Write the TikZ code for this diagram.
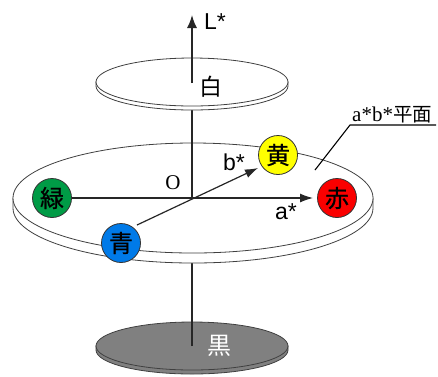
\documentclass[tikz,border=0pt]{standalone}
\usepackage{fontspec}
\setmainfont{Liberation Serif}
\setsansfont{Liberation Sans}
\newfontfamily\jp{Noto Sans CJK JP}
\newfontfamily\jpb[FakeBold=0.8]{Noto Sans CJK JP}
\usetikzlibrary{arrows.meta}
\definecolor{ballgreen}{RGB}{0,155,70}
\definecolor{ballblue}{RGB}{0,122,232}
\definecolor{ballyellow}{RGB}{255,255,0}
\definecolor{ballred}{RGB}{250,0,0}
\definecolor{darkdisc}{RGB}{128,128,128}
\newcommand\mydisc[6]{%
  \filldraw[rim, fill=#6] (#1-#3,#2) -- (#1-#3,#2+#5) arc[start angle=180,end angle=0,x radius=#3,y radius=#4] -- (#1+#3,#2) -- cycle;
  \filldraw[rim, fill=#6] (#1,#2) ellipse[x radius=#3,y radius=#4];
}
\begin{document}
\begin{tikzpicture}[x=1pt,y=-1pt,
  rim/.style={draw=black!75, line width=0.8pt},
  axis/.style={draw=black!85, line width=1.5pt},
  tip/.style={-{Latex[length=13pt,width=10pt]}},
  colorball/.style={circle, draw=black!80, line width=0.8pt, minimum size=39pt, inner sep=0pt, font=\jpb\fontsize{24}{24}\selectfont},
  lab/.style={font=\sffamily\fontsize{23}{23}\selectfont, inner sep=0pt},
  jplab/.style={font=\jp\fontsize{23}{23}\selectfont, inner sep=0pt},
]
\useasboundingbox (0,0) rectangle (438,376);

\coordinate (K) at (192,346);
\coordinate (O) at (192,198);
\coordinate (W) at (192,83);
\coordinate (Ltip) at (192,15);
\coordinate (atip) at (313,198);
\coordinate (btip) at (258,168);
\coordinate (bs) at (137,225);
\coordinate (lead1) at (315,170);
\coordinate (lead2) at (350,125);
\coordinate (lead3) at (436,125);

% black disc
\mydisc{192}{346}{96}{24}{4}{darkdisc}
\draw[axis] (K) -- (O);
\node[jplab, text=white, font=\jp\fontsize{24}{24}\selectfont] (kuro) at (219,346) {黒};

% a*b* plane
\mydisc{193}{198}{180}{55}{10}{white}
\draw[axis] (O) -- (W);

% white disc
\mydisc{192}{82}{96}{24}{4}{white}
\draw[axis, tip] (W) -- (Ltip);
\node[jplab] (shiro) at (211,87) {白};
\node[lab] (Llab) at (215,22) {L*};

% colour balls
\node[colorball, fill=ballgreen] (green) at (52,198) {緑};
\node[colorball, fill=ballred] (red) at (337,198) {赤};
\node[colorball, fill=ballyellow] (yellow) at (278,155) {黄};
\node[colorball, fill=ballblue] (blue) at (121,243) {青};

\draw[axis, line width=1.2pt, -{Latex[length=13pt,width=9pt]}] (green) -- (atip);
\draw[axis, line width=1.2pt, -{Latex[length=13pt,width=9pt]}] (bs) -- (btip);

\node[lab] (alab) at (286,212) {a*};
\node[lab] (blab) at (234,162) {b*};
\node[font=\rmfamily\fontsize{21}{21}\selectfont, inner sep=0pt] (Olab) at (173,183) {O};

% leader
\draw[line width=1.1pt] (lead1) -- (lead2) -- (lead3);
\node[anchor=south west, inner sep=0pt, font=\rmfamily\fontsize{21}{21}\selectfont] (plane) at (352,123) {a*b*{\jp\fontsize{19.5}{19.5}\selectfont 平面}};
\end{tikzpicture}
\end{document}
